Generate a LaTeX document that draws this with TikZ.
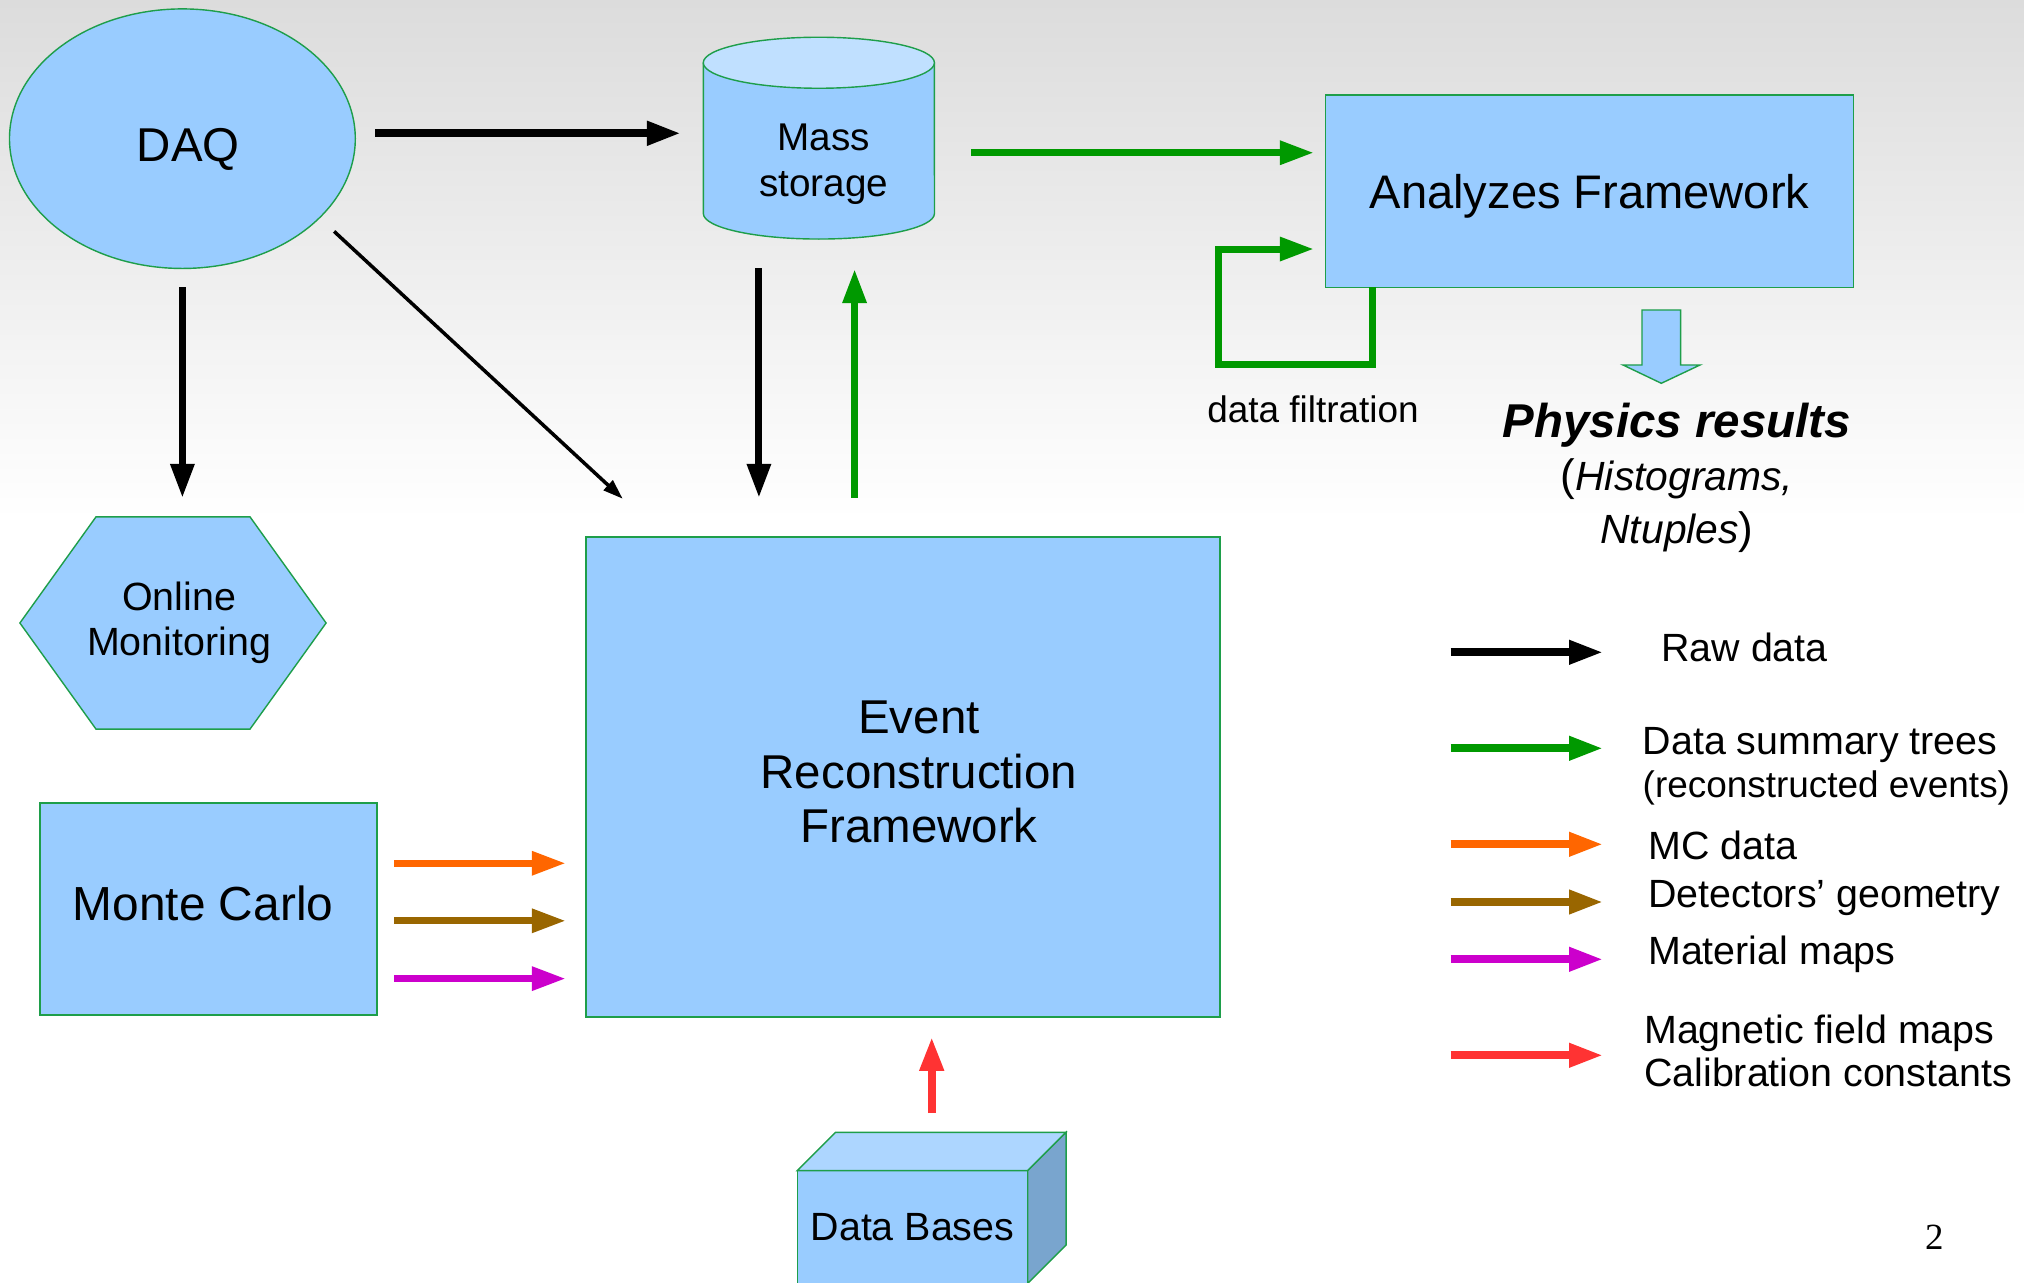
\documentclass[tikz,border=0pt]{standalone}
\usepackage{fontspec}
\setmainfont{Liberation Sans}
\newfontfamily\pagenumfont{Liberation Serif}
\usetikzlibrary{arrows.meta, shapes.geometric, calc, backgrounds}
\definecolor{BoxBlue}{HTML}{99CCFF}
\definecolor{TopBlue}{HTML}{C0E0FF}
\definecolor{LidBlue}{HTML}{ADD6FF}
\definecolor{SideBlue}{HTML}{79A5CE}
\definecolor{Edge}{HTML}{1E9E4A}
\definecolor{DGreen}{HTML}{009900}
\definecolor{MCOrange}{HTML}{FF6600}
\definecolor{GeoBrown}{HTML}{996600}
\definecolor{MatMagenta}{HTML}{CC00CC}
\definecolor{CalRed}{HTML}{FF3333}
\definecolor{BgGray}{RGB}{220,220,220}
\newcommand{\fsz}[2]{\fontsize{#1}{#2}\selectfont}
\newcommand{\Canvas}{
\useasboundingbox (0,0) rectangle (2024,1283);
\begin{scope}[on background layer]
    \fill[white] (0,0) rectangle (2024,1283);
    \shade[top color=BgGray, bottom color=white] (0,0) rectangle (2024,520);
\end{scope}
}
\tikzset{
    box/.style={draw=Edge, fill=BoxBlue, line width=0.4pt, inner sep=0pt, outer sep=0pt},
    blank/.style={inner sep=0pt, outer sep=0pt},
    flow/.style={draw=#1, line width=2pt, -{Triangle[length=0.34cm, width=0.227cm]}},
    rawflow/.style={flow=black, line width=2.3pt},
    thinflow/.style={draw=black, line width=1pt, -{Triangle[length=0.2cm, width=0.13cm]}},
    legend/.style={anchor=west, align=left, inner sep=0pt, font=\fsz{11.2}{12.2}},
}

\begin{document}
\begin{tikzpicture}[x=0.01cm, y=-0.01cm]
\Canvas

% shapes
\node[box, ellipse, minimum width=3.456cm, minimum height=2.594cm] (daq) at (182.4,138.7) {};
\node[text depth=0pt, font=\fsz{13.5}{16}] (daq-text) at ([shift={(0.06cm,-0.065cm)}]daq.center) {DAQ};

\node[blank, minimum width=2.309cm, minimum height=2.017cm] (mass) at (818.85,138.15) {};
\fill[BoxBlue] ([yshift=-0.255cm]mass.north west) -- ([yshift=0.255cm]mass.south west)
    arc[start angle=180, end angle=360, x radius=1.155cm, y radius=0.255cm] -- ([yshift=-0.255cm]mass.north east) -- cycle;
\draw[Edge, line width=0.4pt] ([yshift=-0.255cm]mass.north west) -- ([yshift=0.255cm]mass.south west)
    arc[start angle=180, end angle=360, x radius=1.155cm, y radius=0.255cm] -- ([yshift=-0.255cm]mass.north east);
\draw[Edge, line width=0.4pt, fill=TopBlue] ([yshift=-0.255cm]mass.north) ellipse[x radius=1.155cm, y radius=0.255cm];
\node[align=center, font=\fsz{11}{12.9}] (mass-text) at ([shift={(0.05cm,-0.26cm)}]mass.center) {Mass\\storage};

\node[box, text depth=0pt, minimum width=5.279cm, minimum height=1.923cm, font=\fsz{13.4}{16}] (ana) at (1589.55,191.15) {Analyzes Framework};

\node[blank, minimum width=3.06cm, minimum height=2.12cm] (online) at (173,623) {};
\draw[Edge, fill=BoxBlue, line width=0.4pt] (online.west) -- ([xshift=0.76cm]online.north west) -- ([xshift=-0.76cm]online.north east)
    -- (online.east) -- ([xshift=-0.76cm]online.south east) -- ([xshift=0.76cm]online.south west) -- cycle;
\node[align=center, font=\fsz{11.2}{12.8}] (online-text) at ([xshift=0.06cm]online.center) {Online\\Monitoring};

\node[box, minimum width=3.365cm, minimum height=2.12cm] (mc) at (208.55,909) {};
\node[text depth=0pt, font=\fsz{13.6}{16}] (mc-text) at ([shift={(-0.055cm,0.06cm)}]mc.center) {Monte Carlo};

\node[box, minimum width=6.34cm, minimum height=4.8cm] (evt) at (903,777) {};
\node[align=center, font=\fsz{13.5}{15.4}] (evt-text) at ([shift={(0.16cm,0.05cm)}]evt.center) {Event\\Reconstruction\\Framework};

\node[box, minimum width=2.304cm, minimum height=1.126cm, font=\fsz{11.2}{13}] (db) at (912.5,1227) {Data Bases};
\draw[Edge, fill=LidBlue, line width=0.4pt] (db.north west) -- ++(38.3,-38.3) -- ++(230.4,0) -- (db.north east) -- cycle;
\draw[Edge, fill=SideBlue, line width=0.4pt] (db.north east) -- ++(38.3,-38.3) -- ++(0,112.6) -- (db.south east) -- cycle;

% raw data
\draw[rawflow, shorten <=0.2cm, shorten >=0.224cm] ([yshift=0.054cm]daq.east) -- ([yshift=0.054cm]daq.east -| mass.west);
\draw[rawflow, line width=2pt, shorten <=0.19cm, shorten >=0.19cm] (daq.south) -- (daq.south |- online.north);
\draw[thinflow, shorten <=0.2cm, shorten >=0.56cm] (daq.-30.5) -- ([xshift=0.78cm]evt.north west);
\draw[rawflow, line width=2pt, shorten <=0.29cm, shorten >=0.39cm] ([xshift=-0.599cm]mass.south) -- ([xshift=-0.599cm]mass.south |- evt.north);

% summary trees
\draw[flow=DGreen, shorten <=0.39cm, shorten >=0.30cm] ([xshift=0.357cm]mass.south |- evt.north) -- ([xshift=0.357cm]mass.south);
\draw[flow=DGreen, shorten <=0.367cm, shorten >=0.116cm] ([yshift=-0.146cm]mass.east) -- ([yshift=-0.146cm]mass.east -| ana.west);
\draw[flow=DGreen, shorten >=0.116cm] ([xshift=0.474cm]ana.south west) -- ++(0,77) -- ++(-154.4,0) |- ([yshift=0.383cm]ana.south west);
\node[font=\fsz{10.5}{12}] (filt) at (1313,409.7) {data filtration};

% results
\draw[Edge, fill=BoxBlue, line width=0.4pt] (1642,310) -- (1680.6,310) -- (1680.6,365) -- (1700,365) -- (1661.3,383.3) -- (1623,365) -- (1642,365) -- cycle;
\node[align=center, font=\fsz{11.6}{15.1}] (phys) at (1677,478) {{\fsz{13.5}{15.1}\bfseries\itshape Physics results}\\{\fsz{12.5}{15.1}(}\textit{Histograms,}\\\textit{Ntuples}{\fsz{12.5}{15.1})}};

% Monte Carlo inputs
\foreach \dy/\col in {0.457/MCOrange, -0.118/GeoBrown, -0.696/MatMagenta}
    \draw[flow=\col, shorten <=0.172cm, shorten >=0.2cm] ([yshift=\dy cm]mc.east) -- ([yshift=\dy cm]mc.east -| evt.west);

\draw[flow=CalRed, line width=2.3pt, shorten <=0.574cm, shorten >=0.197cm] ([xshift=0.192cm]db.north) -- ([xshift=0.192cm]db.north |- evt.south);

% legend
\foreach \nm/\col/\ay/\tx/\ty/\txt in {
    raw/black/652.3/1660.6/647/{Raw data},
    dst/DGreen/748.3/1642/766/{Data summary trees\\{\fsz{10.5}{12}(reconstructed events)}},
    mcd/MCOrange/844.3/1647.5/845/{MC data},
    geo/GeoBrown/902/1647.5/898.3/{Detectors’ geometry},
    mat/MatMagenta/959.3/1647.5/954.8/{Material maps},
    cal/CalRed/1055.3/1643.5/1051/{Magnetic field maps\\Calibration constants}}{
    \coordinate (\nm-key) at (1450.5,\ay);
    \draw[flow=\col, line width=2.2pt] (\nm-key) -- ++(152.5,0);
    \node[legend] (\nm-text) at (\tx,\ty) {\txt};
}

\node[font=\pagenumfont\fsz{10.5}{12}] (pagenum) at (1934.3,1237.5) {2};

\end{tikzpicture}
\end{document}
